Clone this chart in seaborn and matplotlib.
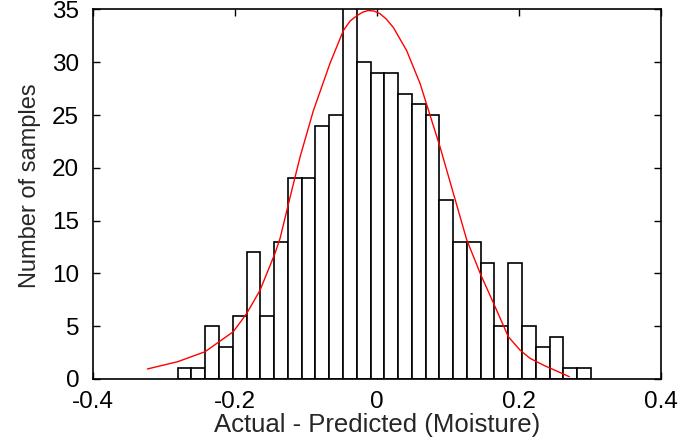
import numpy as np
import pandas as pd
import matplotlib
matplotlib.use('Agg')
import matplotlib.pyplot as plt
import seaborn as sns

# histogram of residuals (bin edges and counts)
bin_start = -0.2807
bin_width = 0.0194
counts = [1, 1, 5, 3, 6, 12, 6, 13, 19, 19, 24, 25, 36, 30, 29,
          29, 27, 26, 25, 17, 13, 13, 11, 5, 11, 5, 3, 4, 1, 1]

# fitted curve (red)
curve_x = [-0.3234, -0.2807, -0.2423, -0.2024, -0.1836, -0.1648, -0.1437, -0.1366,
           -0.1258, -0.1085, -0.0897, -0.0662, -0.0474, -0.0380, -0.0286, -0.0200,
           -0.0122, -0.0040, 0.0042, 0.0130, 0.0230, 0.0418, 0.0606, 0.0887,
           0.1075, 0.1263, 0.1463, 0.1640, 0.1850, 0.2014, 0.2155, 0.2342, 0.2708]
curve_y = [0.95, 1.64, 2.58, 4.48, 6.2, 8.4, 11.9, 13.3,
           16.3, 21.0, 25.4, 29.9, 33.0, 33.9, 34.4, 34.75,
           34.9, 34.85, 34.6, 34.1, 33.3, 31.1, 28.0, 22.0,
           17.6, 13.2, 9.85, 7.2, 4.0, 2.74, 1.96, 1.32, 0.22]

x_ticks = [-0.4, -0.2, 0, 0.2, 0.4]
x_ticklabels = ['-0.4', '-0.2', '0', '0.2', '0.4']
y_ticks = [0, 5, 10, 15, 20, 25, 30, 35]


def main():
    sns.set_style('ticks')
    plt.rcParams['font.family'] = ['Liberation Sans', 'DejaVu Sans']

    edges = bin_start + bin_width * np.arange(len(counts) + 1)
    centers = (edges[:-1] + edges[1:]) / 2
    df = pd.DataFrame({'resid': centers, 'n': counts})
    df_curve = pd.DataFrame({'x': curve_x, 'y': curve_y})

    fig = plt.figure(figsize=(6.81, 4.41), dpi=100)
    ax = fig.add_axes([0.1366, 0.1406, 0.8340, 0.8379])

    sns.histplot(data=df, x='resid', weights='n', bins=list(edges), ax=ax,
                 color='white', edgecolor='black', linewidth=1.2, alpha=1)
    sns.lineplot(data=df_curve, x='x', y='y', ax=ax, color='red',
                 linewidth=1.0, sort=False)

    ax.set_xlim(-0.4, 0.4)
    ax.set_ylim(0, 35)
    ax.set_xticks(x_ticks)
    ax.set_xticklabels(x_ticklabels)
    ax.set_yticks(y_ticks)
    ax.tick_params(direction='in', length=5, width=1.0, labelsize=17.5,
                   top=True, right=True, colors='black')
    ax.tick_params(axis='y', pad=10)
    ax.tick_params(axis='x', pad=9)
    for s in ax.spines.values():
        s.set_visible(True)
        s.set_linewidth(1.2)
        s.set_color('black')

    ax.set_xlabel('Actual - Predicted (Moisture)', fontsize=18.5, labelpad=0)
    ax.set_ylabel('Number of samples', fontsize=17)
    ax.yaxis.set_label_coords(-0.092, 0.522)

    fig.savefig('out.png', dpi=100)


if __name__ == '__main__':
    main()
